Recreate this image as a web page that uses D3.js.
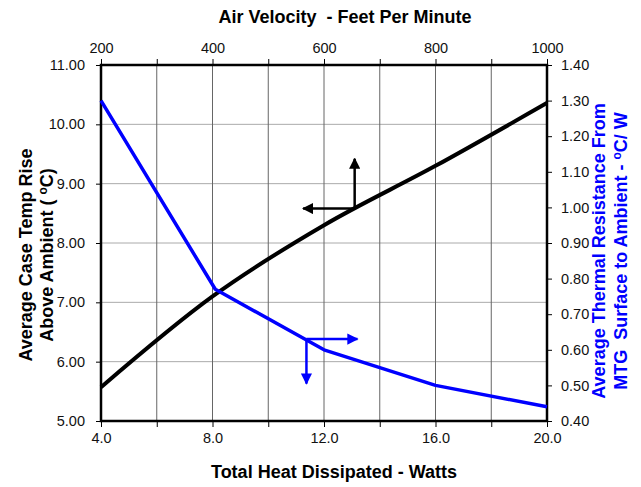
<!DOCTYPE html>
<html>
<head>
<meta charset="utf-8">
<script src="https://cdn.jsdelivr.net/npm/d3@7.9.0/dist/d3.min.js"></script>
<style>
  body { margin: 0; background: #fff; }
  svg text { font-family: "Liberation Sans", Arial, sans-serif; white-space: pre; }
</style>
</head>
<body>
<svg id="chart" width="641" height="487"></svg>
<script>
// data
const watts = [4, 8, 12, 16, 20];
const caseTemp = [5.57, 7.10, 8.30, 9.30, 10.36];
const resistWatts = [4, 8.1, 12, 16, 20];
const resistance = [1.30, 0.77, 0.60, 0.50, 0.44];

const bottomTicks = [4, 6, 8, 10, 12, 14, 16, 18, 20];
const bottomLabels = [4, 8, 12, 16, 20];
const topTicks = [200, 300, 400, 500, 600, 700, 800, 900, 1000];
const topLabels = [200, 400, 600, 800, 1000];
const leftTicks = [5, 6, 7, 8, 9, 10, 11];
const rightTicks = [0.4, 0.5, 0.6, 0.7, 0.8, 0.9, 1.0, 1.1, 1.2, 1.3, 1.4];

// arrow annotations: [vertex x, vertex y, tip x, tip y] in data units
const blackArrows = [[13.1, 8.58, 11.25, 8.58], [13.1, 8.58, 13.1, 9.42]];
const blueArrows = [[11.37, 0.63, 13.2, 0.63], [11.37, 0.63, 11.37, 0.505]];

const svg = d3.select('#chart');
const plotL = 101, plotR = 547, plotT = 65, plotB = 421;

const x = d3.scaleLinear().domain([4, 20]).range([plotL, plotR]);
const xTop = d3.scaleLinear().domain([200, 1000]).range([plotL, plotR]);
const yL = d3.scaleLinear().domain([5, 11]).range([plotB, plotT]);
const yR = d3.scaleLinear().domain([0.4, 1.4]).range([plotB, plotT]);

// grid
svg.append('g').selectAll('line')
  .data(leftTicks.slice(1, -1))
  .join('line')
  .attr('x1', plotL).attr('x2', plotR)
  .attr('y1', d => yL(d)).attr('y2', d => yL(d))
  .attr('stroke', '#aaa').attr('stroke-width', 1);

svg.append('g').selectAll('line')
  .data(bottomTicks.slice(1, -1))
  .join('line')
  .attr('x1', d => x(d)).attr('x2', d => x(d))
  .attr('y1', plotT).attr('y2', plotB)
  .attr('stroke', '#666').attr('stroke-width', 1);

// axes
const fmt1 = d3.format('.1f'), fmt2 = d3.format('.2f');

const gB = svg.append('g').attr('transform', `translate(0,${plotB})`)
  .call(d3.axisBottom(x).tickValues(bottomTicks).tickSize(6)
    .tickFormat(d => bottomLabels.includes(d) ? fmt1(d) : ''));
const gT = svg.append('g').attr('transform', `translate(0,${plotT})`)
  .call(d3.axisTop(xTop).tickValues(topTicks).tickSize(6)
    .tickFormat(d => topLabels.includes(d) ? d : ''));
const gL = svg.append('g').attr('transform', `translate(${plotL},0)`)
  .call(d3.axisLeft(yL).tickValues(leftTicks).tickSize(5).tickPadding(11).tickFormat(fmt2));
const gR = svg.append('g').attr('transform', `translate(${plotR},0)`)
  .call(d3.axisRight(yR).tickValues(rightTicks).tickSize(5).tickPadding(9).tickFormat(fmt2));

[gB, gT, gL, gR].forEach(g => {
  g.select('.domain').remove();
  g.selectAll('.tick line').attr('stroke', '#000').attr('stroke-width', 1);
  g.selectAll('.tick text').attr('font-size', 14.5).attr('fill', '#111')
    .attr('font-family', '"Liberation Sans", Arial, sans-serif');
});
gB.selectAll('.tick text').attr('y', 22).attr('dy', 0);
gT.selectAll('.tick text').attr('y', -12).attr('dy', 0);

// plot frame
svg.append('rect')
  .attr('x', plotL).attr('y', plotT)
  .attr('width', plotR - plotL).attr('height', plotB - plotT)
  .attr('fill', 'none').attr('stroke', '#000').attr('stroke-width', 2.5);

// series
const blackLine = d3.line().x((d, i) => x(watts[i])).y(d => yL(d)).curve(d3.curveMonotoneX);
svg.append('path').attr('d', blackLine(caseTemp))
  .attr('fill', 'none').attr('stroke', '#000').attr('stroke-width', 4);

const blueLine = d3.line().x((d, i) => x(resistWatts[i])).y(d => yR(d));
svg.append('path').attr('d', blueLine(resistance))
  .attr('fill', 'none').attr('stroke', '#0000ff').attr('stroke-width', 3.5)
  .attr('stroke-linejoin', 'round');

// arrow markers
const defs = svg.append('defs');
[['ah-black', '#000'], ['ah-blue', '#0000ff']].forEach(([id, c]) => {
  defs.append('marker').attr('id', id)
    .attr('viewBox', '0 0 10 10').attr('refX', 9).attr('refY', 5)
    .attr('markerWidth', 4.5).attr('markerHeight', 4.5)
    .attr('markerUnits', 'strokeWidth').attr('orient', 'auto')
    .append('path').attr('d', 'M0,0 L10,5 L0,10 Z').attr('fill', c);
});

svg.append('g').selectAll('line').data(blackArrows).join('line')
  .attr('x1', d => x(d[0])).attr('y1', d => yL(d[1]))
  .attr('x2', d => x(d[2])).attr('y2', d => yL(d[3]))
  .attr('stroke', '#000').attr('stroke-width', 2.5)
  .attr('marker-end', 'url(#ah-black)');

svg.append('g').selectAll('line').data(blueArrows).join('line')
  .attr('x1', d => x(d[0])).attr('y1', d => yR(d[1]))
  .attr('x2', d => x(d[2])).attr('y2', d => yR(d[3]))
  .attr('stroke', '#0000ff').attr('stroke-width', 2.5)
  .attr('marker-end', 'url(#ah-blue)');

// titles
svg.append('text').attr('x', 345).attr('y', 23)
  .attr('text-anchor', 'middle').attr('font-size', 18).attr('font-weight', 'bold')
  .text('Air Velocity  - Feet Per Minute');

svg.append('text').attr('x', 334).attr('y', 478)
  .attr('text-anchor', 'middle').attr('font-size', 18).attr('font-weight', 'bold')
  .text('Total Heat Dissipated - Watts');

const lt = svg.append('text')
  .attr('transform', 'translate(32,255) rotate(-90)')
  .attr('text-anchor', 'middle').attr('font-size', 18).attr('font-weight', 'bold');
lt.append('tspan').attr('x', 0).attr('y', 0).text('Average Case Temp Rise');
const lt2 = lt.append('tspan').attr('x', 0).attr('y', 21);
lt.append('tspan').attr('x', 0).attr('y', 21).text('Above Ambient ( ')
  .append('tspan').attr('font-size', 12).attr('dy', -6).text('o');
lt.select('tspan:last-child').append('tspan').attr('dy', 6).text('C)');

const rt = svg.append('text')
  .attr('transform', 'translate(605,251) rotate(-90)')
  .attr('text-anchor', 'middle').attr('font-size', 18).attr('font-weight', 'bold')
  .attr('fill', '#0000ff');
rt.append('tspan').attr('x', 0).attr('y', 0).text('Average Thermal Resistance From');
const r2 = rt.append('tspan').attr('x', 0).attr('y', 22).text('MTG  Surface to Ambient - ');
r2.append('tspan').attr('font-size', 12).attr('dy', -6).text('o');
r2.append('tspan').attr('dy', 6).text('C/ W');
</script>
</body>
</html>
